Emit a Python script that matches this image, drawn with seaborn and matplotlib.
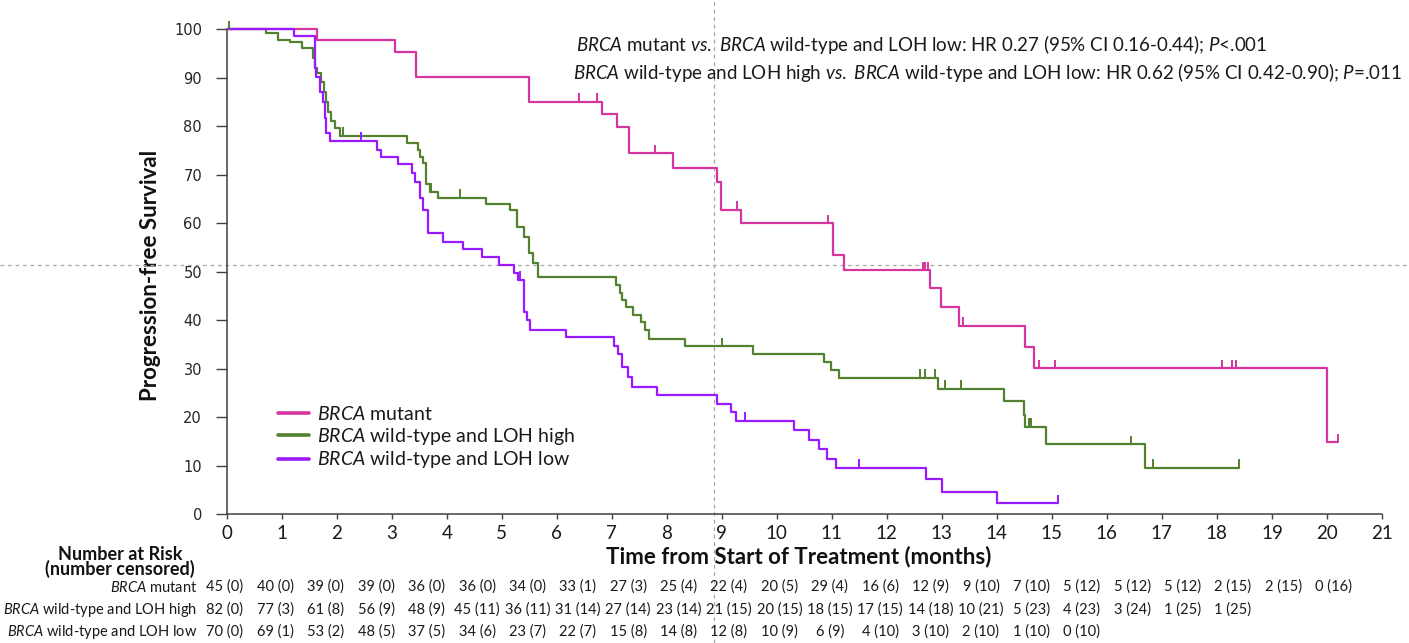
import numpy as np
import pandas as pd
import matplotlib
matplotlib.use("Agg")
import matplotlib.pyplot as plt
import seaborn as sns

# ---------------- data ----------------
# BRCA mutant
mut_time = [0, 1.64, 3.06, 3.45, 5.49, 6.83, 7.10, 7.31, 8.12, 8.92, 8.98, 9.35,
            11.02, 11.23, 12.78, 12.99, 13.32, 14.51, 14.67, 20.0, 20.2]
mut_surv = [100, 97.8, 95.3, 90.1, 85.1, 82.5, 79.8, 74.4, 71.5, 68.6, 62.8, 60.0,
            53.5, 50.3, 46.7, 42.8, 38.9, 34.4, 30.1, 14.85, 14.85]
mut_cens = [6.40, 6.74, 7.78, 9.27, 10.93, 12.65, 12.70, 12.74, 13.38, 14.77,
            15.06, 18.10, 18.28, 18.35, 20.2]

# BRCA wild-type and LOH high
high_time = [0, 0.72, 0.93, 1.15, 1.36, 1.57, 1.61, 1.65, 1.72, 1.77, 1.81, 1.84,
             1.89, 1.96, 2.06, 3.28, 3.48, 3.52, 3.56, 3.63, 3.69, 3.85, 4.72,
             5.15, 5.27, 5.41, 5.49, 5.57, 5.65, 7.08, 7.15, 7.18, 7.26, 7.39,
             7.53, 7.60, 7.68, 8.33, 9.56, 10.86, 10.98, 11.13, 12.93, 14.13,
             14.49, 14.51, 14.89, 16.70, 18.40]
high_surv = [100, 99.2, 97.8, 97.4, 96.1, 94.0, 92.0, 90.9, 89.2, 87.1, 85.1, 83.0,
             81.1, 79.7, 78.1, 76.6, 75.1, 73.7, 72.4, 68.2, 66.5, 65.3, 63.9,
             62.7, 59.3, 57.2, 53.8, 51.8, 49.0, 47.3, 45.6, 44.2, 42.8, 41.1,
             39.7, 38.0, 36.1, 34.6, 33.0, 31.3, 29.8, 28.1, 25.8, 23.3,
             20.5, 18.1, 14.4, 9.5, 9.5]
high_cens = [0.04, 2.12, 3.71, 4.24, 9.01, 12.61, 12.70, 12.87, 13.05, 13.35,
             14.59, 14.61, 14.63, 16.43, 16.83, 18.40]

# BRCA wild-type and LOH low
low_time = [0, 1.23, 1.60, 1.62, 1.69, 1.75, 1.78, 1.81, 1.87, 2.73, 2.81, 3.12,
            3.36, 3.42, 3.51, 3.57, 3.66, 3.94, 4.29, 4.64, 4.95, 5.23, 5.30,
            5.41, 5.45, 5.51, 6.16, 7.04, 7.11, 7.18, 7.29, 7.36, 7.82, 8.92,
            9.16, 9.25, 10.31, 10.59, 10.77, 10.92, 11.07, 12.71, 13.01, 14.01,
            15.12]
low_surv = [100, 98.7, 92.0, 90.2, 87.1, 85.1, 81.7, 78.6, 77.0, 75.1, 73.7, 72.2,
            70.3, 68.6, 65.2, 62.7, 57.9, 56.2, 54.6, 53.1, 51.4, 49.7, 48.3,
            41.8, 40.1, 38.1, 36.6, 34.6, 33.0, 30.4, 28.4, 26.3, 24.6, 22.7,
            21.0, 19.3, 17.4, 15.3, 13.4, 11.5, 9.5, 7.2, 4.66, 2.27,
            2.27]
low_cens = [2.44, 5.34, 9.42, 11.50, 15.12]

# number at risk (number censored)
mut_n = [45, 40, 39, 39, 36, 36, 34, 33, 27, 25, 22, 20, 29, 16, 12, 9, 7, 5, 5, 5, 2, 2, 0]
mut_c = [0, 0, 0, 0, 0, 0, 0, 1, 3, 4, 4, 5, 4, 6, 9, 10, 10, 12, 12, 12, 15, 15, 16]
high_n = [82, 77, 61, 56, 48, 45, 36, 31, 27, 23, 21, 20, 18, 17, 14, 10, 5, 4, 3, 1, 1]
high_c = [0, 3, 8, 9, 9, 11, 11, 14, 14, 14, 15, 15, 15, 15, 18, 21, 23, 23, 24, 25, 25]
low_n = [70, 69, 53, 48, 37, 34, 23, 22, 15, 14, 12, 10, 6, 4, 3, 2, 1, 0]
low_c = [0, 1, 2, 5, 5, 6, 7, 7, 8, 8, 8, 9, 9, 10, 10, 10, 10, 10]

group_labels = [r"$\it{BRCA}$ mutant",
                r"$\it{BRCA}$ wild-type and LOH high",
                r"$\it{BRCA}$ wild-type and LOH low"]
group_colors = ["#D5359F", "#52812F", "#9B19FF"]

x_ticks = list(range(0, 22))
y_ticks = list(range(0, 101, 10))

hr_lines = [r"$\it{BRCA}$ mutant $\it{vs.}$ $\it{BRCA}$ wild-type and LOH low: HR 0.27 (95% CI 0.16-0.44); $\it{P}$<.001",
            r"$\it{BRCA}$ wild-type and LOH high $\it{vs.}$ $\it{BRCA}$ wild-type and LOH low: HR 0.62 (95% CI 0.42-0.90); $\it{P}$=.011"]

# reference (crosshair) lines seen in the picture
REF_X = 8.85
REF_Y = 51.3

# ---------------- style ----------------
sns.set_theme(style="white")
plt.rcParams['font.family'] = ['Lato', 'DejaVu Sans']
plt.rcParams['mathtext.fontset'] = 'custom'
plt.rcParams['mathtext.it'] = 'Lato:italic'
plt.rcParams['mathtext.rm'] = 'Lato'
plt.rcParams['mathtext.bf'] = 'Lato:bold'

W, H = 1409, 643
fig = plt.figure(figsize=(W / 100, H / 100), dpi=100)
fig.patch.set_facecolor("white")
X0, X21, Y0, YTOP = 226.7, 1381.9, 514.3, 19.6
ax = fig.add_axes([X0 / W, 1 - Y0 / H, (X21 - X0) / W, (Y0 - YTOP) / H])
ax.set_facecolor("white")

frames = []
for lab, t, s in zip(group_labels, [mut_time, high_time, low_time],
                     [mut_surv, high_surv, low_surv]):
    frames.append(pd.DataFrame({"Months": t, "PFS": s, "Group": lab}))
df = pd.concat(frames, ignore_index=True)

sns.lineplot(data=df, x="Months", y="PFS", hue="Group", hue_order=group_labels,
             palette=group_colors, drawstyle="steps-post", estimator=None,
             sort=False, linewidth=1.6, ax=ax, zorder=3)


def step_at(ts, ss, x):
    ts = np.asarray(ts)
    ss = np.asarray(ss)
    idx = np.searchsorted(ts, x, side="right") - 1
    return ss[np.clip(idx, 0, len(ss) - 1)]


for t, s, c, col in zip([mut_time, high_time, low_time],
                        [mut_surv, high_surv, low_surv],
                        [mut_cens, high_cens, low_cens], group_colors):
    cy = step_at(t, s, np.asarray(c))
    ax.vlines(c, cy, cy + 1.8, colors=col, linewidth=1.4, zorder=3, clip_on=False)

ax.set_xlim(0, 21)
ax.set_ylim(0, 102)
ax.set_xticks(x_ticks)
ax.set_yticks(y_ticks)
ax.set_xticklabels([str(v) for v in x_ticks], fontsize=13.5, color="#1a1a1a")
ax.set_yticklabels([str(v) for v in y_ticks], fontsize=10.5, color="#262626",
                   family="DejaVu Sans")
ax.tick_params(axis="y", direction="out", length=7.7, width=1.0, color="#404040",
               pad=10, left=True)
ax.tick_params(axis="x", direction="out", length=3.6, width=1.0, color="#404040",
               pad=4, bottom=True)
for side in ["top", "right"]:
    ax.spines[side].set_visible(False)
for side in ["left", "bottom"]:
    ax.spines[side].set_color("#404040")
    ax.spines[side].set_linewidth(1.1)
ax.spines["left"].set_bounds(0, 100)

ax.set_xlabel("Time from Start of Treatment (months)", fontsize=16,
              fontweight="bold", color="#111111")
ax.xaxis.set_label_coords(0.495, -0.063)
ax.set_ylabel("Progression-free Survival", fontsize=16, fontweight="bold",
              color="#111111")
ax.yaxis.set_label_coords(-0.057, 0.482)

# legend
handles, labels_ = ax.get_legend_handles_labels()
leg = ax.legend(handles, labels_, loc="upper left",
                bbox_to_anchor=((278 - X0) / (X21 - X0), (Y0 - 405) / (Y0 - YTOP)),
                frameon=False, fontsize=14, handlelength=1.6, handletextpad=0.4,
                labelspacing=0.14, borderpad=0, borderaxespad=0)
for h in leg.get_lines():
    h.set_linewidth(2.6)
for t in leg.get_texts():
    t.set_color("#1a1a1a")

# HR annotation
ax.text((576 - X0) / (X21 - X0), (Y0 - 45) / (Y0 - YTOP), hr_lines[0],
        transform=ax.transAxes, ha="left", va="center", fontsize=13.5, color="#1a1a1a")
ax.text((573 - X0) / (X21 - X0), (Y0 - 73) / (Y0 - YTOP), hr_lines[1],
        transform=ax.transAxes, ha="left", va="center", fontsize=13.5, color="#1a1a1a")

# dashed crosshair lines
ax.axhline(REF_Y, xmin=-X0 / (X21 - X0), xmax=(W - X0) / (X21 - X0),
           color="#A6A6A6", linestyle=(0, (3, 3)), linewidth=0.9, clip_on=False, zorder=1)
ax.axvline(REF_X, ymin=(Y0 - H) / (Y0 - YTOP), ymax=Y0 / (Y0 - YTOP),
           color="#A6A6A6", linestyle=(0, (3, 3)), linewidth=0.9, clip_on=False, zorder=1)

# number-at-risk table
TAB_X0, TAB_DX = 225.0, 50.4
fig.text(120 / W, 1 - 554 / H, "Number at Risk", ha="center", va="center",
         fontsize=13, fontweight="bold", color="#111111")
fig.text(120 / W, 1 - 569 / H, "(number censored)", ha="center", va="center",
         fontsize=13, fontweight="bold", color="#111111")
row_y = [587, 610, 632]
for lab, ns, cs, ry in zip(group_labels, [mut_n, high_n, low_n],
                           [mut_c, high_c, low_c], row_y):
    fig.text(197 / W, 1 - ry / H, lab, ha="right", va="center", fontsize=10.5,
             color="#1a1a1a")
    for i, (n, c) in enumerate(zip(ns, cs)):
        fig.text((TAB_X0 + TAB_DX * i) / W, 1 - ry / H, f"{n} ({c})", ha="center",
                 va="center", fontsize=10.5, color="#1a1a1a")

fig.savefig("out.png", dpi=100, facecolor="white")
